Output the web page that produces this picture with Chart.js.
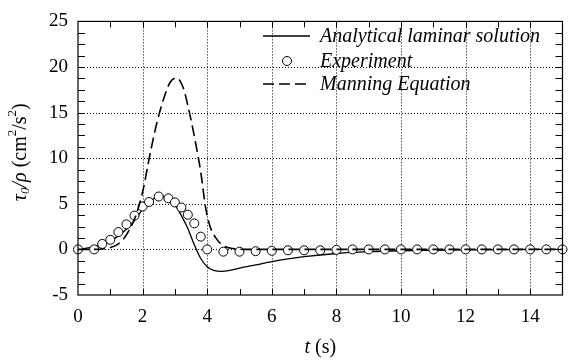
<!DOCTYPE html>
<html>
<head>
<meta charset="utf-8">
<script src="https://cdn.jsdelivr.net/npm/chart.js@4.4.1/dist/chart.umd.min.js"></script>
<style>
  html, body { margin: 0; padding: 0; background: #fff; }
  #wrap { width: 568px; height: 360px; position: relative; }
</style>
</head>
<body>
<div id="wrap"><canvas id="shearChart"></canvas></div>
<script>
// time t (s) and bed shear stress tau0/rho (cm^2/s^2)
const analyticalT = [0, 0.5, 1.0, 1.5, 1.8, 2.0, 2.25, 2.5, 2.7, 2.85, 3.0, 3.2, 3.4, 3.6, 3.8, 4.0, 4.2, 4.45, 4.7, 5.0, 5.5, 6.0, 6.5, 7.0, 8.0, 9.0, 10, 11, 12, 13, 15];
const analyticalY = [0, 0.3, 0.9, 2.2, 3.4, 4.4, 5.3, 5.8, 5.8, 5.5, 4.9, 3.7, 2.3, 0.5, -1.0, -1.9, -2.3, -2.4, -2.3, -2.05, -1.7, -1.35, -1.05, -0.8, -0.45, -0.25, -0.15, -0.1, -0.05, -0.02, 0];

const experimentT = [0, 0.5, 0.75, 1.0, 1.25, 1.5, 1.75, 2.0, 2.2, 2.5, 2.8, 3.0, 3.2, 3.4, 3.6, 3.8, 4.0, 4.5, 5.0, 5.5, 6.0, 6.5, 7.0, 7.5, 8.0, 8.5, 9.0, 9.5, 10, 10.5, 11, 11.5, 12, 12.5, 13, 13.5, 14, 14.5, 15];
const experimentY = [0, 0, 0.6, 1.05, 1.9, 2.75, 3.7, 4.7, 5.2, 5.8, 5.6, 5.15, 4.6, 3.8, 2.85, 1.4, 0, -0.25, -0.25, -0.2, -0.15, -0.1, -0.1, -0.1, -0.05, 0, 0, 0, 0, 0, 0, 0, 0, 0, 0, 0, 0, 0, 0];

const manningT = [0, 0.5, 1.0, 1.2, 1.4, 1.6, 1.8, 2.0, 2.25, 2.45, 2.65, 2.85, 3.05, 3.25, 3.45, 3.65, 3.8, 3.95, 4.1, 4.3, 4.5, 4.8, 5.2, 6, 15];
const manningY = [0, 0, 0.2, 0.5, 1.1, 2.2, 3.8, 6.3, 10.8, 14.0, 16.5, 18.3, 18.8, 17.8, 15.0, 11.5, 8.5, 4.6, 2.4, 1.1, 0.4, 0.1, 0, 0, 0];

const xTicks = [0, 2, 4, 6, 8, 10, 12, 14];
const yTicks = [-5, 0, 5, 10, 15, 20, 25];
const legendLabels = ['Analytical laminar solution', 'Experiment', 'Manning Equation'];

const serif = "'Liberation Serif', 'Times New Roman', serif";
Chart.defaults.font.family = serif;
Chart.defaults.color = '#000';

function toPoints(xs, ys) {
    return xs.map((x, i) => ({ x: x, y: ys[i] }));
}

// dotted grid, boxed frame with inward ticks, legend and axis titles
const framePlugin = {
    id: 'frame',
    beforeDatasetsDraw(chart) {
        const { ctx, chartArea: a, scales: { x, y } } = chart;
        ctx.save();
        ctx.strokeStyle = '#000';
        ctx.lineWidth = 1;
        ctx.setLineDash([1, 2]);
        xTicks.forEach(v => {
            if (v <= x.min || v >= x.max) return;
            const px = Math.round(x.getPixelForValue(v)) + 0.5;
            ctx.beginPath(); ctx.moveTo(px, a.top); ctx.lineTo(px, a.bottom); ctx.stroke();
        });
        yTicks.forEach(v => {
            if (v <= y.min || v >= y.max) return;
            const py = Math.round(y.getPixelForValue(v)) + 0.5;
            ctx.beginPath(); ctx.moveTo(a.left, py); ctx.lineTo(a.right, py); ctx.stroke();
        });
        ctx.restore();
    },
    afterDraw(chart) {
        const { ctx, chartArea: a, scales: { x, y } } = chart;
        ctx.save();
        ctx.strokeStyle = '#000';
        ctx.lineWidth = 1.2;
        ctx.setLineDash([]);
        ctx.strokeRect(a.left, a.top, a.right - a.left, a.bottom - a.top);

        ctx.lineWidth = 1;
        for (let v = x.min + 1; v < x.max; v += 1) {
            const px = Math.round(x.getPixelForValue(v)) + 0.5;
            ctx.beginPath();
            ctx.moveTo(px, a.bottom); ctx.lineTo(px, a.bottom - 6);
            ctx.moveTo(px, a.top); ctx.lineTo(px, a.top + 6);
            ctx.stroke();
        }
        for (let v = y.min + 1.25; v < y.max; v += 1.25) {
            const py = Math.round(y.getPixelForValue(v)) + 0.5;
            ctx.beginPath();
            ctx.moveTo(a.left, py); ctx.lineTo(a.left + 7, py);
            ctx.moveTo(a.right, py); ctx.lineTo(a.right - 7, py);
            ctx.stroke();
        }

        // legend
        const rows = [36, 61, 84];
        ctx.lineWidth = 1.3;
        ctx.beginPath(); ctx.moveTo(263, rows[0]); ctx.lineTo(310, rows[0]); ctx.stroke();
        ctx.lineWidth = 1;
        ctx.beginPath(); ctx.arc(287, rows[1], 4.5, 0, Math.PI * 2);
        ctx.fillStyle = '#fff'; ctx.fill(); ctx.stroke();
        ctx.lineWidth = 1.6;
        ctx.setLineDash([11, 5]);
        ctx.beginPath(); ctx.moveTo(263, rows[2]); ctx.lineTo(310, rows[2]); ctx.stroke();
        ctx.setLineDash([]);
        ctx.fillStyle = '#000';
        ctx.font = 'italic 20px ' + serif;
        ctx.textBaseline = 'middle';
        ctx.textAlign = 'left';
        legendLabels.forEach((t, i) => ctx.fillText(t, 320, rows[i] + 1));

        // x title
        const italic = 'italic 20px ' + serif, roman = '20px ' + serif;
        ctx.font = italic; const wT = ctx.measureText('t').width;
        ctx.font = roman; const wS = ctx.measureText(' (s)').width;
        let sx = (a.left + a.right) / 2 - (wT + wS) / 2;
        ctx.font = italic; ctx.fillText('t', sx, 348);
        ctx.font = roman; ctx.fillText(' (s)', sx + wT, 348);

        // y title
        const parts = [
            { t: '\u03c4', f: italic, dy: 0 },
            { t: '0', f: 'italic 13px ' + serif, dy: 5 },
            { t: '/\u03c1', f: italic, dy: 0 },
            { t: ' (cm', f: roman, dy: 0 },
            { t: '2', f: '13px ' + serif, dy: -8 },
            { t: '/s', f: roman, dy: 0 },
            { t: '2', f: '13px ' + serif, dy: -8 },
            { t: ')', f: roman, dy: 0 }
        ];
        let total = 0;
        parts.forEach(p => { ctx.font = p.f; p.w = ctx.measureText(p.t).width; total += p.w; });
        ctx.translate(21, (a.top + a.bottom) / 2 - 6);
        ctx.rotate(-Math.PI / 2);
        let cx = -total / 2;
        parts.forEach(p => { ctx.font = p.f; ctx.fillText(p.t, cx, p.dy); cx += p.w; });
        ctx.restore();
    }
};

new Chart(document.getElementById('shearChart'), {
    type: 'scatter',
    data: {
        datasets: [{
            label: legendLabels[0],
            data: toPoints(analyticalT, analyticalY),
            showLine: true,
            borderColor: '#000',
            borderWidth: 1.3,
            pointRadius: 0,
            cubicInterpolationMode: 'monotone',
            order: 3
        }, {
            label: legendLabels[1],
            data: toPoints(experimentT, experimentY),
            showLine: false,
            pointStyle: 'circle',
            pointRadius: 4.5,
            pointBackgroundColor: '#fff',
            pointBorderColor: '#000',
            pointBorderWidth: 1,
            clip: false,
            order: 2
        }, {
            label: legendLabels[2],
            data: toPoints(manningT, manningY),
            showLine: true,
            borderColor: '#000',
            borderWidth: 1.6,
            borderDash: [11, 5],
            pointRadius: 0,
            cubicInterpolationMode: 'monotone',
            order: 1
        }]
    },
    options: {
        responsive: true,
        maintainAspectRatio: false,
        animation: false,
        events: [],
        layout: { padding: { left: 0, right: 1, top: 13, bottom: 0 } },
        plugins: {
            legend: { display: false },
            tooltip: { enabled: false }
        },
        scales: {
            x: {
                type: 'linear',
                min: 0,
                max: 15,
                afterBuildTicks: s => { s.ticks = xTicks.map(v => ({ value: v })); },
                afterFit: s => { s.height = 65; },
                ticks: { font: { size: 19 }, padding: 11, maxRotation: 0 },
                grid: { display: false, drawTicks: false },
                border: { display: false }
            },
            y: {
                type: 'linear',
                min: -5,
                max: 25,
                afterBuildTicks: s => { s.ticks = yTicks.map(v => ({ value: v })); },
                afterFit: s => { s.width = 78; },
                ticks: { font: { size: 19 }, padding: 10 },
                grid: { display: false, drawTicks: false },
                border: { display: false }
            }
        }
    },
    plugins: [framePlugin]
});
</script>
</body>
</html>
